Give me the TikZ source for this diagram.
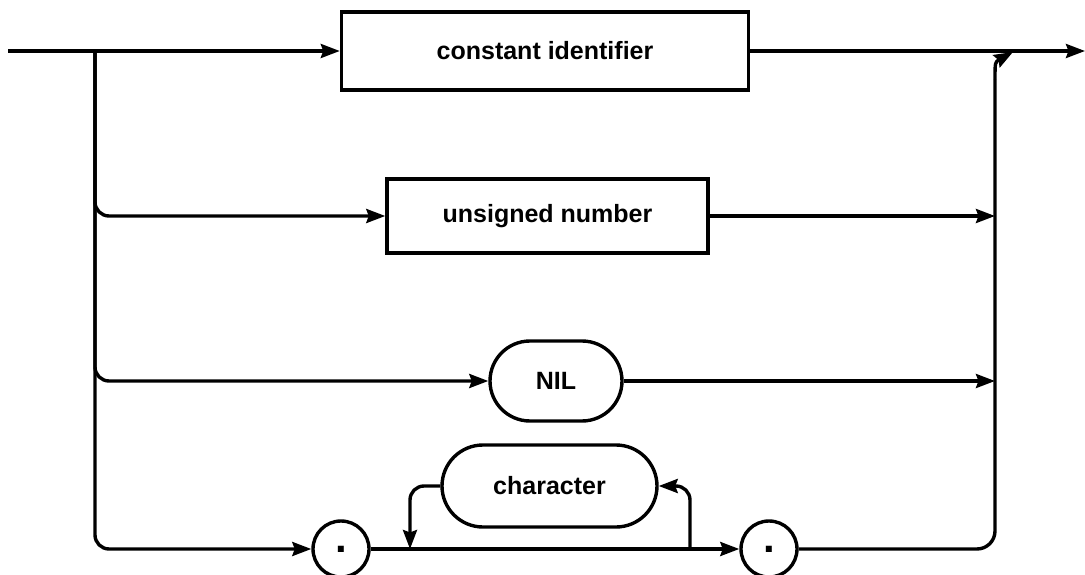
\documentclass[tikz,border=0pt]{standalone}
\usepackage{fontspec}
\setmainfont{Liberation Sans}
\usetikzlibrary{arrows.meta,shapes.misc}
\begin{document}
\begin{tikzpicture}[x=1pt,y=-1pt,
  conn/.style={line width=3.4pt, line join=round},
  arr/.style={conn, -{Stealth[length=19pt,width=14pt,inset=2.5pt]}},
  termbox/.style={draw, line width=3.4pt, rectangle, inner sep=0pt, font=\fontsize{25}{27}\selectfont\bfseries},
  termpill/.style={draw, line width=3.4pt, rounded rectangle, inner sep=0pt, font=\fontsize{25}{27}\selectfont\bfseries},
  dotcirc/.style={draw, line width=3.4pt, circle, minimum size=56pt, inner sep=0pt, font=\fontsize{42}{42}\selectfont\bfseries}
]
\useasboundingbox (0,0) rectangle (1085,575);

\node[termbox, minimum width=407pt, minimum height=78pt] (ci) at (545,51) {constant identifier};
\node[termbox, minimum width=321pt, minimum height=74pt] (un) at (547.5,216) {unsigned number};
\node[termpill, minimum width=132pt, minimum height=80pt] (nil) at (556,381) {NIL};
\node[termpill, minimum width=215pt, minimum height=82pt] (chr) at (549.5,486) {character};
\node[dotcirc] (c1) at (341,549) {\raisebox{-2.9pt}{.}};
\node[dotcirc] (c2) at (769,549) {\raisebox{-2.9pt}{.}};

\coordinate (in) at (8,51);
\coordinate (out) at (1085,51);
\coordinate (j) at (95,51);
\coordinate (rv) at (995,0);
\coordinate (lb) at (410,549);
\coordinate (rb) at (690,549);
\coordinate (rtop) at (995,80);
\coordinate (merge) at (1013,52);

% main line
\draw[arr] (in) -- (ci.west);
\draw[arr] (ci.east) -- (out);

% left branches
\draw[arr, rounded corners=14pt] (j) |- (un.west);
\draw[arr, rounded corners=14pt] (j) |- (nil.west);
\draw[arr, rounded corners=14pt] (j) |- (c1.west);

% right joins
\draw[arr] (un.east) -- (un.east -| rv);
\draw[arr] (nil.east) -- (nil.east -| rv);
\draw[conn, rounded corners=18pt] (c2.east) -| (rtop);
\draw[arr] (rtop) .. controls (995,62) .. (merge);

% string loop
\draw[arr] (c1.east) -- (c2.west);
\draw[arr, rounded corners=14pt] (chr.west) -| (lb);
\draw[arr, rounded corners=14pt] (rb) |- (chr.east);
\end{tikzpicture}
\end{document}
